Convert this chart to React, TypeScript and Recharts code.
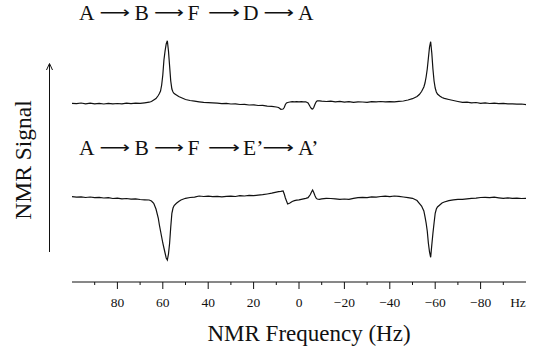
import React, { useLayoutEffect, useRef, useState } from 'react';
import { LineChart, Line, XAxis, YAxis, Customized } from 'recharts';

// frequency grid (Hz), shared by both spectra
const freqHz = [
  100, 98, 96, 94, 92, 90, 88, 86, 84, 82, 80, 78, 76, 74, 72, 70, 68,
  66, 65, 64, 63, 62, 61.5, 61, 60.5, 60, 59.5, 59, 58.5, 58, 57.5, 57, 56.5, 56, 55.5, 55, 54, 53, 52,
  50, 48, 46, 44, 42, 40, 38, 36, 34, 32, 30, 28, 26, 24, 22, 20, 18, 16, 14, 12, 10,
  9, 8, 7, 6.5, 6, 5.5, 5, 4, 3, 2, 1, 0, -1, -2, -3, -4, -5, -5.5, -6, -6.5, -7, -7.5, -8, -9, -10,
  -12, -14, -16, -18, -20, -22, -24, -26, -28, -30, -32, -34, -36, -38, -40, -42, -44, -46, -48, -50,
  -52, -53, -54, -55, -55.5, -56, -56.5, -57, -57.5, -58, -58.5, -59, -59.5, -60, -60.5, -61, -62, -63, -64, -66,
  -68, -70, -72, -74, -76, -78, -80, -82, -84, -86, -88, -90, -92, -94, -96, -98, -100,
];

// A -> B -> F -> D -> A  (arbitrary units, baseline ~0)
const cycleD = [
  -0.3, -0.6, 0, -0.8, -0.2, -0.9, -0.4, -1, -0.3, -0.8, -0.5, -0.9, -0.2, -0.6, -0.1, -0.4, 0.2,
  0.8, 1.5, 3, 4.5, 7.5, 9.5, 12, 18, 28, 43, 52, 59, 62.3, 52, 37, 22, 14, 11, 9.5, 8, 6.5, 5.5,
  3.5, 2.5, 1.8, 1.2, 0.7, 0.4, 0.1, -0.1, -0.6, -0.3, -1.0, -0.8, -1.5, -1.3, -2.0, -1.8, -2.5, -2.4, -3.1, -3.3, -4.0,
  -4.5, -6.3, -6, -4.5, -1.5, 0, 0.5, 1.0, 1.3, 1.1, 1.4, 1.2, 1.3, 1.1, 1.2, 0, -4, -5.7, -6, -4.5, -1.5, 1, 2.2, 2.1, 1.8,
  1.5, 1.8, 1.2, 1.6, 0.8, 1.3, 0.7, 1.2, 1.0, 0.6, 1.4, 1.1, 1.5, 1.2, 1.4, 1.1, 1.7, 2.0, 3.0, 4.3,
  6.5, 8.5, 11.5, 16, 20, 26, 34, 45, 56, 61.3, 50, 34, 22, 15, 11, 9, 7, 5.5, 4.6, 3.5,
  2.5, 1.5, 0.6, 0.9, 0.2, 0.5, -0.3, 0.1, -0.5, -0.1, -0.7, -0.3, -0.9, -0.8, -1.2, -1.0, -1.7,
];

// A -> B -> F -> E' -> A'
const cycleE = [
  1.3, 0.8, 1.2, 0.5, 1.0, 0.3, 0.7, 0, 0.4, -0.5, -0.2, -0.8, -0.5, -1.2, -0.9, -1.5, -1.8,
  -2, -3, -5.3, -11, -20, -27, -33, -39, -45, -50, -55, -60, -62, -56, -45.3, -29, -15.3, -10, -7.5, -5.3, -3.5, -2,
  -0.3, 0.5, 0.8, 2, 1.5, 1.8, 1.3, 1.7, 1.2, 1.6, 1.9, 1.5, 2.3, 2.0, 2.6, 2.3, 2.9, 3.3, 4, 4.8, 5.8,
  6.3, 6.6, 7, 4, 0, -3, -6, -5, -3.5, -2.7, -2.2, -1.8, -1.3, -0.8, -0.3, 0.3, 3.5, 6, 8, 5.5, 2.5, 0, -1, -1.3, -0.8,
  -0.3, -0.5, -0.8, -1.3, -1.0, -1.3, -0.4, 0.3, 0.7, 0.3, 1.2, 0.8, 1.5, 1.8, 1.4, 2.0, 1.6, 1.0, 0.3, -0.3,
  -2.5, -5.3, -8, -13, -18.7, -25, -33, -45.3, -54, -59.3, -47, -35.3, -25, -15.3, -11, -9, -7, -5, -4, -2.7,
  -1.8, -1.3, -1.3, -0.8, -0.4, -0.1, 0.5, 0.7, 0.4, 0.8, 0.2, -0.3, 0.1, -0.4, -0.1, -0.5, -0.3,
];

const freqTicks = [90, 80, 70, 60, 50, 40, 30, 20, 10, 0, -10, -20, -30, -40, -50, -60, -70, -80, -90];
const pathD = ['A', 'B', 'F', 'D', 'A'];
const pathE = ['A', 'B', 'F', 'E\u2019', 'A\u2019'];

// vertical stacking of the two traces
const OFFSET_D = 179;
const OFFSET_E = 84;

const rows = freqHz.map((hz, i) => ({ hz, d: cycleD[i] + OFFSET_D, e: cycleE[i] + OFFSET_E }));

const SERIF = '"Liberation Serif", "Times New Roman", serif';
const INK = '#111';

const fmtHz = (v: number) => (v < 0 ? '\u2212' + Math.abs(v) : String(v));

const FreqTick = (props: any) => {
  const { x, y, payload } = props;
  const v = payload.value;
  const major = v % 20 === 0;
  return (
    <g>
      <line x1={x} x2={x} y1={y} y2={y + (major ? 7 : 3)} stroke={INK} strokeWidth={1} />
      {major && (
        <text x={x} y={y + 25} textAnchor="middle" style={{ fontFamily: SERIF }} fontSize={13.5} fill={INK}>
          {fmtHz(v)}
        </text>
      )}
    </g>
  );
};

// long arrow glyph, fitted to width w
const Arrow = ({ x, y, w }: { x: number; y: number; w: number }) => {
  const ref = useRef<SVGTextElement>(null);
  const [sx, setSx] = useState(1);
  useLayoutEffect(() => {
    if (ref.current) {
      const len = ref.current.getComputedTextLength();
      if (len > 0) setSx(w / len);
    }
  }, [w]);
  return (
    <text ref={ref} transform={`translate(${x} ${y}) scale(${sx} 1)`} x={0} y={0}
      style={{ fontFamily: '"DejaVu Sans"' }} fontSize={16} fill={INK}>
      {'\u27F6'}
    </text>
  );
};

const letterX = [79, 134.5, 187.5, 243, 298];

const PathLabel = ({ steps, y, arrows }: { steps: string[]; y: number; arrows: number[][] }) => (
  <g>
    {steps.map((s, i) => (
      <text key={'l' + i} x={letterX[i]} y={y} style={{ fontFamily: SERIF }} fontSize={21.5} fill={INK}>
        {s}
      </text>
    ))}
    {arrows.map(([x0, w], i) => (
      <Arrow key={'a' + i} x={x0} y={y - 2} w={w} />
    ))}
  </g>
);

const Overlay = () => (
  <g>
    <PathLabel steps={pathD} y={20} arrows={[[99.5, 30.5], [154, 30], [208, 32], [263.5, 30.5]]} />
    <PathLabel steps={pathE} y={155} arrows={[[99.5, 30.5], [154, 30], [208, 32], [262.5, 31.5]]} />
    {/* signal axis arrow */}
    <line x1={49.5} x2={49.5} y1={64} y2={252} stroke={INK} strokeWidth={1} />
    <polyline points="46.5,70 49.5,63.5 52.5,70" fill="none" stroke={INK} strokeWidth={1} />
    <text x={31} y={160} transform="rotate(-90 31 160)" textAnchor="middle"
      style={{ fontFamily: SERIF }} fontSize={23.5} fill={INK}>
      NMR Signal
    </text>
    <text x={518} y={307} textAnchor="middle" style={{ fontFamily: SERIF }} fontSize={13.5} fill={INK}>Hz</text>
    <text x={309} y={341} textAnchor="middle" style={{ fontFamily: SERIF }} fontSize={23} fill={INK}>
      NMR Frequency (Hz)
    </text>
  </g>
);

export default function App() {
  return (
    <div style={{ position: 'absolute', left: 0, top: 0, width: 541, height: 350, background: '#fff' }}>
      <LineChart width={541} height={350} data={rows} margin={{ top: 30, right: 15, bottom: 28, left: 72 }}>
        <XAxis
          dataKey="hz"
          type="number"
          domain={[-100, 100]}
          reversed
          ticks={freqTicks}
          interval={0}
          height={40}
          tickLine={false}
          tickSize={0}
          tickMargin={0}
          tick={<FreqTick />}
          axisLine={{ stroke: INK, strokeWidth: 1 }}
        />
        <YAxis hide type="number" domain={[0, 252]} />
        <Line type="linear" dataKey="d" stroke={INK} strokeWidth={1.2} dot={false} isAnimationActive={false} />
        <Line type="linear" dataKey="e" stroke={INK} strokeWidth={1.2} dot={false} isAnimationActive={false} />
        <Customized component={Overlay} />
      </LineChart>
    </div>
  );
}
